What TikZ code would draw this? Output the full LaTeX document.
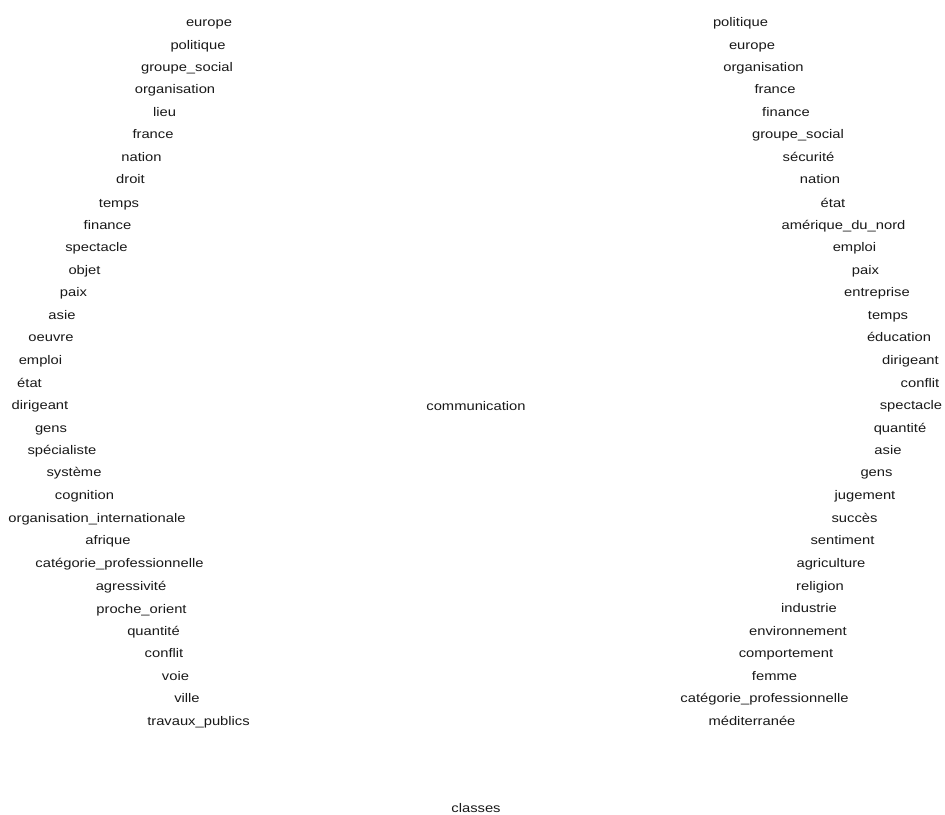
\documentclass[tikz,border=0pt]{standalone}
\usepackage{fontspec}
\setmainfont[FakeStretch=1.18]{Liberation Sans}
\begin{document}
\begin{tikzpicture}[x=1pt,y=-1pt,
  lbl/.style={inner sep=0pt, anchor=base, font=\fontsize{12.5}{14}\selectfont, text=black!90}]
\useasboundingbox[fill=white] (0,0) rectangle (945,814);
\foreach \xx/\yy/\tt [count=\i] in {
 209/21/europe, 198/44/politique, 187/66/groupe\_social, 175/88/organisation,
 164.5/111/lieu, 153/133/france, 141.5/156/nation, 130.5/178/droit,
 119/202/temps, 107.5/224/finance, 96.5/246/spectacle, 84.5/269/objet,
 73.5/291/paix, 62/314/asie, 51/336/oeuvre, 40.5/359/emploi,
 29.5/382/état, 40/404/dirigeant, 51/427/gens, 62/449/spécialiste,
 74/471/système, 84.5/494/cognition, 97/517/organisation\_internationale,
 108/539/afrique, 119.5/562/catégorie\_professionnelle, 131/585/agressivité,
 141.5/608/proche\_orient, 153.5/630/quantité, 164/652/conflit,
 175.5/675/voie, 187/697/ville, 198.5/720/travaux\_publics}
  \node[lbl] (L\i) at (\xx,\yy+5.5) {\tt};
\foreach \xx/\yy/\tt [count=\i] in {
 740.5/21/politique, 752/44/europe, 763.5/66/organisation, 775/88/france,
 786/111/finance, 798/133/groupe\_social, 808.5/156/sécurité, 820/178/nation,
 833/202/état, 843.5/224/amérique\_du\_nord, 854.5/246/emploi, 865.5/269/paix,
 877/291/entreprise, 888/314/temps, 899/336/éducation, 910.5/359/dirigeant,
 920/382/conflit, 911/404/spectacle, 900/427/quantité, 888/449/asie,
 876.5/471/gens, 865/494/jugement, 854.5/517/succès, 842.5/539/sentiment,
 831/562/agriculture, 820/585/religion, 809/607/industrie,
 798/630/environnement, 786/652/comportement, 774.5/675/femme,
 764.5/697/catégorie\_professionnelle, 752/720/méditerranée}
  \node[lbl] (R\i) at (\xx,\yy+5.5) {\tt};
\node[lbl] (comm) at (476,410.5) {communication};
\node[lbl] (classes) at (476,812) {classes};
\end{tikzpicture}
\end{document}
